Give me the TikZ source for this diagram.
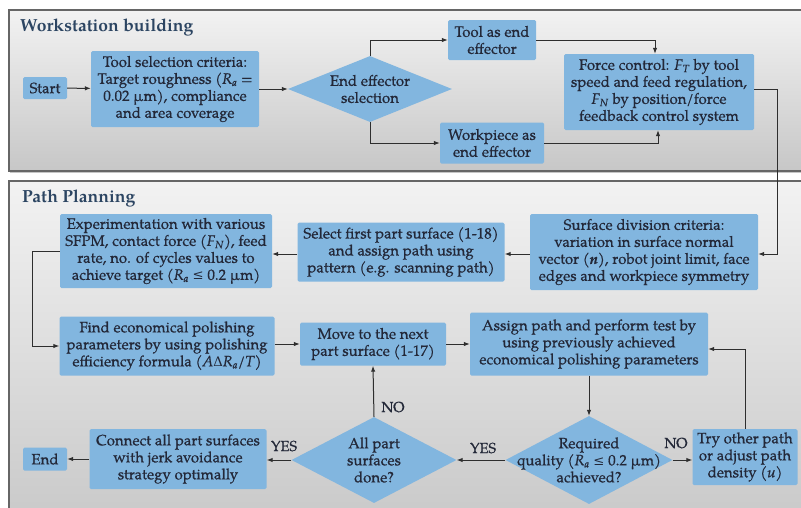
\documentclass[tikz,border=0pt]{standalone}
\usepackage{fontspec}
\setmainfont{texgyrepagella}[Extension=.otf, UprightFont=*-regular, BoldFont=*-bold, ItalicFont=*-italic, BoldItalicFont=*-bolditalic]
\newfontfamily\boxfont{texgyrepagella}[Extension=.otf, UprightFont=*-regular, BoldFont=*-bold, ItalicFont=*-italic, BoldItalicFont=*-bolditalic, FakeBold=0.7]
\newfontfamily\symfont{DejaVu Serif}[Scale=0.88]
\usetikzlibrary{shapes.geometric,arrows.meta,shadows}
\definecolor{boxblue}{HTML}{82B6DF}
\definecolor{txt}{HTML}{232838}
\definecolor{ttl}{HTML}{2C4562}
\definecolor{edge}{HTML}{2E2E2E}
\definecolor{frame}{HTML}{666666}
\newcommand{\isub}[2]{\textit{#1}\textsubscript{\textit{#2}}}
\newcommand{\lesseq}{{\symfont ≤}}
\newcommand{\deltasym}{{\symfont Δ}}
\tikzset{
  panel/.style={draw=frame, line width=1.1pt, top color=black!5, bottom color=black!22,
    drop shadow={shadow xshift=0.8pt, shadow yshift=-1.6pt, opacity=0.45}},
  paneltitle/.style={anchor=west, text=ttl, font=\bfseries\fontsize{17.5}{20}\selectfont, inner sep=0pt},
  stepbox/.style={rectangle, rounded corners=1.5pt, fill=boxblue, text=txt, align=center, inner sep=0pt,
    font=\boxfont\fontsize{15}{17}\selectfont},
  decision/.style={diamond, fill=boxblue, inner sep=0pt},
  dtext/.style={text=txt, align=center, inner sep=0pt, font=\boxfont\fontsize{15}{17}\selectfont},
  flowlbl/.style={text=txt, inner sep=0pt, font=\boxfont\fontsize{14.5}{16}\selectfont},
  arr/.style={draw=edge, line width=1pt, -{Latex[length=6pt,width=4.5pt]}},
}
\begin{document}
\begin{tikzpicture}[x=1pt, y=-1pt]
\useasboundingbox (0,0) rectangle (801,507);
\fill[white] (0,0) rectangle (801,507);
\begin{scope}
  \clip (0,0) rectangle (801,507);
  \path[panel] (9,10) rectangle (830,171);
  \path[panel] (9,181) rectangle (830,540);
\end{scope}
\node[paneltitle] (t1) at (20,28) {Workstation building};
\node[paneltitle] (t2) at (22,199) {Path Planning};

% Workstation building
\node[stepbox, minimum width=44, minimum height=22] (start) at (45,88) {Start};
\node[stepbox, minimum width=168, minimum height=76] (tsel) at (175,89)
  {Tool selection criteria:\\Target roughness (\isub{R}{a} =\\0.02 µm), compliance\\and area coverage};
\node[decision, minimum width=164, minimum height=66] (d1) at (370,89) {};
\node[dtext] (d1t) at (d1) {End effector\\selection};
\node[stepbox, minimum width=88, minimum height=40] (tee) at (492,40) {Tool as end\\effector};
\node[stepbox, minimum width=104, minimum height=41] (wee) at (492,143) {Workpiece as\\end effector};
\node[stepbox, minimum width=190, minimum height=76] (force) at (659,92)
  {Force control: \isub{F}{T} by tool\\speed and feed regulation,\\\isub{F}{N} by position/force\\feedback control system};

% Path planning
\node[stepbox, minimum width=228, minimum height=76] (surf) at (644,252)
  {Surface division criteria:\\variation in surface normal\\vector (\textbf{\textit{n}}), robot joint limit, face\\edges and workpiece symmetry};
\node[stepbox, minimum width=207, minimum height=59] (sel) at (401,252)
  {Select first part surface (1-18)\\and assign path using\\pattern (e.g. scanning path)};
\node[stepbox, minimum width=212, minimum height=74] (exp) at (166,251)
  {Experimentation with various\\SFPM, contact force (\isub{F}{N}), feed\\rate, no. of cycles values to\\achieve target (\isub{R}{a} \lesseq{} 0.2 µm)};
\node[stepbox, minimum width=215, minimum height=59] (find) at (167,346)
  {Find economical polishing\\parameters by using polishing\\efficiency formula (\textit{A}\deltasym\isub{R}{a}/\textit{T})};
\node[stepbox, minimum width=146, minimum height=43] (move) at (373,344)
  {Move to the next\\part surface (1-17)};
\node[stepbox, minimum width=238, minimum height=63] (assign) at (589,344)
  {Assign path and perform test by\\using previously achieved\\economical polishing parameters};
\node[decision, minimum width=167, minimum height=88] (req) at (589,460) {};
\node[dtext] (reqt) at (req) {Required\\quality (\isub{R}{a} \lesseq{} 0.2 µm)\\achieved?};
\node[stepbox, minimum width=105, minimum height=56] (try) at (745,457)
  {Try other path\\or adjust path\\density (\textit{u})};
\node[decision, minimum width=165, minimum height=86] (all) at (374,460) {};
\node[dtext] (allt) at (all) {All part\\surfaces\\done?};
\node[stepbox, minimum width=177, minimum height=60] (conn) at (178,459)
  {Connect all part surfaces\\with jerk avoidance\\strategy optimally};
\node[stepbox, minimum width=44, minimum height=23] (end) at (45,459) {End};

% Connectors, upper panel
\draw[arr] (start) -- (tsel);
\draw[arr] (tsel) -- (d1);
\draw[arr] (d1.north) |- (tee.west);
\draw[arr] (d1.south) |- (wee.west);
\draw[arr] (tee.east) -| ([xshift=-4pt]force.north);
\draw[arr] (wee.east) -| ([xshift=-1pt]force.south);
\draw[arr] ([yshift=3pt]force.east) -- ++(23,0) |- ([yshift=-2pt]surf.east);

% Connectors, lower panel
\draw[arr] ([yshift=-2pt]surf.west) -- ([yshift=-2pt]sel.east);
\draw[arr] ([yshift=-2pt]sel.west) -- ([yshift=-3pt]exp.east);
\draw[arr] (exp.west) -- ++(-27,0) |- (find.west);
\draw[arr] ([yshift=2pt]find.east) -- ([yshift=0pt]move.west);
\draw[arr] (move.east) -- (assign.west);
\draw[arr] (assign.south) -- (req.north);
\draw[arr] (req.east) -- (try.west |- req.east);
\draw[arr] (try.north) |- ([yshift=-5pt]assign.east);
\draw[arr] (req.west) -- (all.east);
\draw[arr] (all.north) -- (move.south);
\draw[arr] (all.west) -- (conn.east |- all.west);
\draw[arr] (conn.west) -- (end.east);

% Branch labels
\node[flowlbl] (no1) at (676,443) {NO};
\node[flowlbl] (yes1) at (483,448) {YES};
\node[flowlbl] (no2) at (393,407) {NO};
\node[flowlbl] (yes2) at (284,446) {YES};
\end{tikzpicture}
\end{document}
